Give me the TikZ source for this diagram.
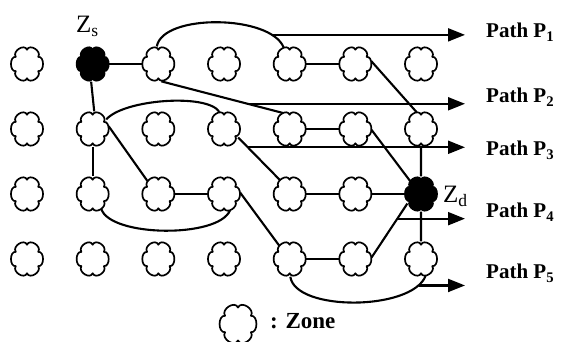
\documentclass[tikz,border=0pt]{standalone}
\usepackage{fontspec}
\setmainfont{Liberation Serif}
\usetikzlibrary{shapes.geometric,arrows.meta}
\begin{document}
\begin{tikzpicture}[x=1pt,y=-1pt,
  % invisible ellipse that carries the anchors of a zone
  zone/.style={ellipse, minimum width=32pt, minimum height=35pt, inner sep=0pt},
  zoneline/.style={line width=1.7pt, line join=round},
  % scalloped outline of a zone: six puffs, notches at top and bottom
  zoneshape/.pic={
    \draw[zoneline, yscale=1.1] (-30:13)
      foreach \a in {0,60,...,300}{ .. controls (\a-22:19) and (\a+22:19) .. (\a+30:13) } -- cycle;
  },
  zoneshapefilled/.pic={
    \filldraw[zoneline, yscale=1.1] (-30:13)
      foreach \a in {0,60,...,300}{ .. controls (\a-22:19) and (\a+22:19) .. (\a+30:13) } -- cycle;
  },
  link/.style={line width=2.1pt},
  patharrow/.style={line width=2.1pt, -{Triangle[length=17pt,width=13pt]}},
  pathlabel/.style={anchor=base west, inner sep=0pt,
    font=\bfseries\fontsize{21}{21}\selectfont},
  zlabel/.style={anchor=base west, inner sep=0pt,
    font=\fontsize{25}{25}\selectfont}
]
\useasboundingbox (0,0) rectangle (571,342);

% zone grid (source and destination zones are added separately)
\foreach \r/\c in {0/0,0/2,0/3,0/4,0/5,0/6,
                   1/0,1/1,1/2,1/3,1/4,1/5,1/6,
                   2/0,2/1,2/2,2/3,2/4,2/5,
                   3/0,3/1,3/2,3/3,3/4,3/5,3/6}{
  \node[zone] (z\r\c) at ({27+65.67*\c},{64+65*\r}) {};
  \pic at (z\r\c) {zoneshape};
}
\node[zone] (zs) at ({27+65.67},64) {};
\pic at (zs) {zoneshapefilled};
\node[zone] (zd) at (421,194) {};
\pic at (zd) {zoneshapefilled};

\node[zlabel] (zslabel) at (76,33) {Z\textsubscript{s}};
\node[zlabel] (zdlabel) at (443,203) {Z\textsubscript{d}};

% path P1
\draw[link] (zs) -- (z02);
\draw[link] (z02.95) .. controls +(6,-33) and +(-13,-33) .. node[pos=0.85, coordinate] (s1) {} (z04.110);
\draw[link] (z04) -- (z05);
\draw[link] (z05.10) -- (z16.105);
\draw[link] (z16) -- (zd);

% path P2
\draw[link] (z02.-80) -- coordinate[pos=0.71] (s2) (z14.113);
\draw[link] (z14) -- (z15);
\draw[link] (z15.-3) -- (zd.130);

% path P3
\draw[link] (zs.265) -- (z11.85);
\draw[link] (z11.35) .. controls +(17,-20) and +(-12,-19) .. (z13.105);
\draw[link] (z13.-31) -- coordinate[pos=0.23] (s3) (z24.125);
\draw[link] (z24) -- (z25);
\draw[link] (z25) -- (zd);

% path P4
\draw[link] (z11.10) -- (z22.130);
\draw[link] (z22) -- (z23);
\draw[link] (z23.5) -- (z34.128);
\draw[link] (z34) -- (z35);
\draw[link] (z35.5) -- coordinate[pos=0.72] (s4) (zd.215);

% path P5
\draw[link] (z11) -- (z21);
\draw[link] (z21.-60) .. controls +(9,28) and +(-12,28) .. (z23.-70);
\draw[link] (z34.-88) .. controls +(5,35) and +(-14,35) .. node[pos=0.9, coordinate] (s5) {} (z36.-75);
\draw[link] (z36) -- (zd);

% path arrows and labels
\coordinate (tip) at (465,0);
\foreach \i/\b in {1/38,2/103,3/156,4/218,5/279}{
  \draw[patharrow] (s\i) -- (s\i -| tip);
  \node[pathlabel] (l\i) at (486,\b) {Path P\textsubscript{\i}};
}

% legend
\node[zone, minimum width=37pt, minimum height=40pt] (key) at (238,324) {};
\pic[scale=1.15] at (key) {zoneshape};
\node[pathlabel, font=\bfseries\fontsize{23}{23}\selectfont] (keytext) at (270,328) {: Zone};
\end{tikzpicture}
\end{document}
